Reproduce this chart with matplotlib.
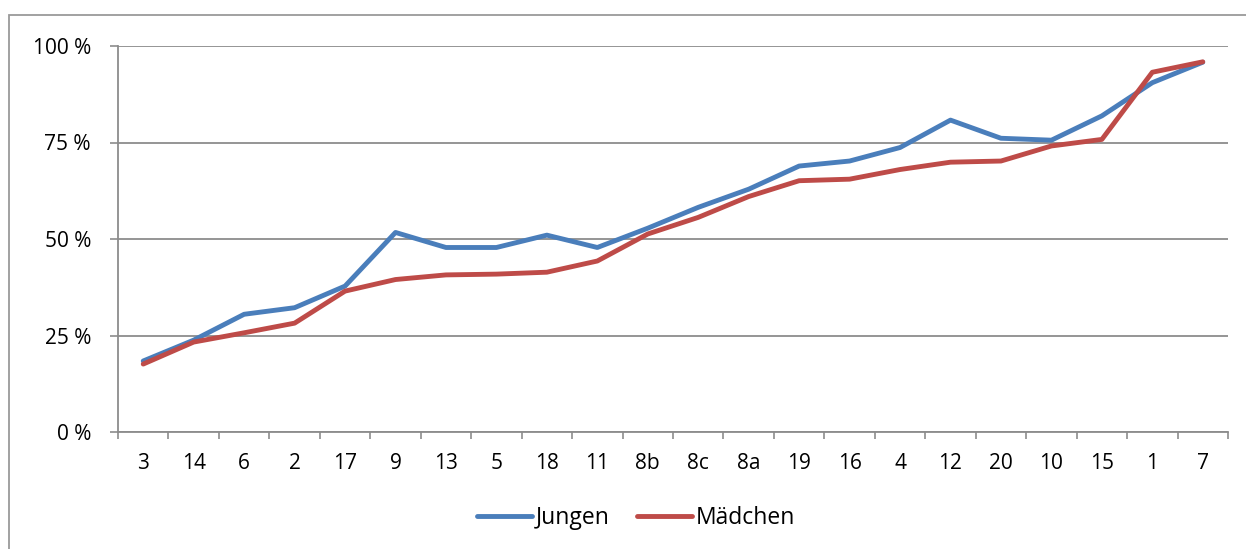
import matplotlib
matplotlib.use('Agg')
import matplotlib.pyplot as plt
from matplotlib.patches import Rectangle
from matplotlib.ticker import FixedLocator, FuncFormatter

categories = ['3', '14', '6', '2', '17', '9', '13', '5', '18', '11', '8b', '8c',
              '8a', '19', '16', '4', '12', '20', '10', '15', '1', '7']
jungen = [18.4, 23.8, 30.5, 32.2, 37.8, 51.7, 47.8, 47.8, 51.0, 47.8, 52.8, 58.2,
          62.9, 68.9, 70.2, 73.7, 80.8, 76.1, 75.6, 81.9, 90.5, 95.8]
maedchen = [17.6, 23.3, 25.7, 28.2, 36.5, 39.5, 40.7, 40.9, 41.4, 44.3, 51.3, 55.6,
            61.0, 65.1, 65.5, 68.0, 69.9, 70.2, 74.1, 75.8, 93.2, 95.9]
y_ticks = [0, 25, 50, 75, 100]

plt.rcParams['font.family'] = ['Open Sans', 'DejaVu Sans']

W, H = 1246, 549
fig = plt.figure(figsize=(W / 100, H / 100), dpi=100)
ax = fig.add_axes([118 / W, 1 - 432 / H, (1228 - 118) / W, (432 - 46) / H])

# outer chart frame (cut off at right and bottom)
fig.patches.append(Rectangle((9 / W, -0.1), 1.2, 1 - 15 / H + 0.1,
                             transform=fig.transFigure, fill=False,
                             edgecolor='#9a9a9a', linewidth=1.3))

x = range(len(categories))
ax.plot(x, jungen, color='#4A7EBB', linewidth=3.5, label='Jungen',
        solid_joinstyle='round', solid_capstyle='round')
ax.plot(x, maedchen, color='#BE4B48', linewidth=3.5, label='Mädchen',
        solid_joinstyle='round', solid_capstyle='round')

ax.set_xlim(-0.5, len(categories) - 0.5)
ax.set_ylim(0, 100)

grid_color = '#8c8c8c'
ax.set_yticks(y_ticks)
ax.yaxis.set_major_formatter(FuncFormatter(lambda v, p: f'{int(v)} %'))
ax.grid(axis='y', color=grid_color, linewidth=1.3)
ax.set_axisbelow(True)

ax.set_xticks(list(x))
ax.set_xticklabels(categories)
ax.xaxis.set_minor_locator(FixedLocator([i - 0.5 for i in range(len(categories) + 1)]))
ax.tick_params(axis='x', which='major', length=0, pad=15, labelsize=15)
ax.tick_params(axis='x', which='minor', length=5, width=1.2, color=grid_color)
ax.tick_params(axis='y', length=6, width=1.2, color=grid_color, pad=13.5, labelsize=15)

for side in ['top', 'right']:
    ax.spines[side].set_visible(False)
for side in ['left', 'bottom']:
    ax.spines[side].set_color(grid_color)
    ax.spines[side].set_linewidth(1.3)

fig.legend(loc='center', bbox_to_anchor=(636 / W, 1 - 518 / H), ncol=2,
           frameon=False, fontsize=16.5, handlelength=2.4, handletextpad=0.15,
           columnspacing=1.2)

fig.savefig('out.png', dpi=100)
